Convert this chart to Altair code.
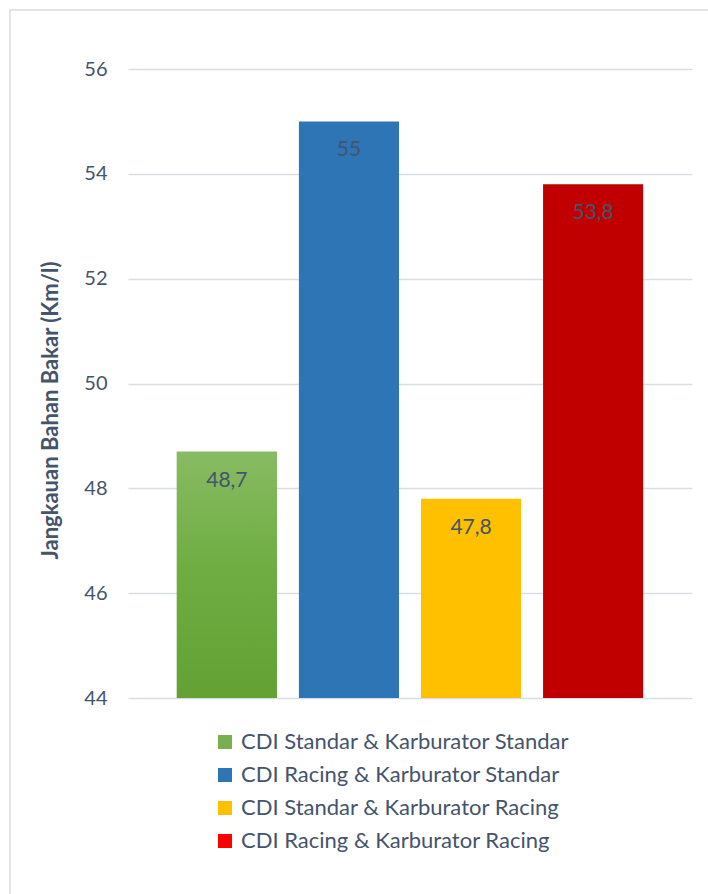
import altair as alt
import pandas as pd

categories = [
    "CDI Standar & Karburator Standar",
    "CDI Racing & Karburator Standar",
    "CDI Standar & Karburator Racing",
    "CDI Racing & Karburator Racing",
]
values = [48.7, 55.0, 47.8, 53.8]
labels = ["48,7", "55", "47,8", "53,8"]
bar_colors = ["#74AD48", "#2E75B6", "#FFC000", "#C00000"]
legend_colors = ["#79B04D", "#2E75B6", "#FFC000", "#FF0000"]
y_ticks = [44, 46, 48, 50, 52, 54, 56]

df = pd.DataFrame({"cat": categories, "val": values, "lab": labels})

FONT = "Lato"
TXT = "#44546A"

x_enc = alt.X(
    "cat:N",
    sort=categories,
    axis=None,
    scale=alt.Scale(paddingInner=0.18, paddingOuter=0.40),
)
y_enc = alt.Y(
    "val:Q",
    scale=alt.Scale(domain=[44, 56], zero=False, nice=False),
    axis=alt.Axis(
        values=y_ticks,
        title="Jangkauan Bahan Bakar (Km/l)",
        titleFont=FONT,
        titleFontSize=22,
        titleFontWeight="bold",
        titleColor=TXT,
        titlePadding=21,
        titleY=341,
        titleAlign="center",
        labelFont=FONT,
        labelFontSize=20,
        labelColor=TXT,
        labelPadding=21,
        ticks=False,
        domain=False,
        grid=True,
        gridColor="#D9DDE5",
        gridWidth=1.3,
    ),
)

bars = alt.Chart(df).mark_bar().encode(
    x=x_enc,
    y=y_enc,
    y2=alt.datum(44),
    color=alt.Color(
        "cat:N",
        sort=categories,
        scale=alt.Scale(domain=categories, range=bar_colors),
        legend=None,
    ),
)

green = (
    alt.Chart(df)
    .transform_filter(alt.datum.cat == categories[0])
    .mark_bar(
        color=alt.Gradient(
            gradient="linear",
            stops=[
                alt.GradientStop(color="#88BB63", offset=0),
                alt.GradientStop(color="#70AE44", offset=0.45),
                alt.GradientStop(color="#62A132", offset=1),
            ],
            x1=0, x2=0, y1=0, y2=1,
        )
    )
    .encode(x=x_enc, y=alt.Y("val:Q"), y2=alt.datum(44))
)

text = alt.Chart(df).mark_text(
    font=FONT, fontSize=21, color=TXT, baseline="middle", dy=29
).encode(x=x_enc, y=alt.Y("val:Q"), text="lab:N")

legend_layer = alt.Chart(df).mark_square(opacity=0, size=0).encode(
    x=x_enc,
    y=alt.Y("val:Q"),
    color=alt.Color(
        "cat:N",
        sort=categories,
        scale=alt.Scale(domain=categories, range=legend_colors),
        legend=alt.Legend(
            title=None,
            orient="none",
            legendX=86,
            legendY=662,
            direction="vertical",
            symbolType="square",
            symbolSize=196,
            symbolOpacity=1,
            symbolStrokeWidth=0,
            labelFont=FONT,
            labelFontSize=22,
            labelColor=TXT,
            labelOffset=5,
            rowPadding=11,
            labelLimit=500,
        ),
    ),
)

frame = alt.Chart(pd.DataFrame({"a": [0]})).mark_rect(
    fill=None, stroke="#D9DEE6", strokeWidth=1.5
).encode(
    x=alt.value(-118), x2=alt.value(800), y=alt.value(-59), y2=alt.value(1000)
)

chart = (
    alt.layer(frame, bars, green, text, legend_layer)
    .resolve_scale(color="independent")
    .properties(
        width=564,
        height=629,
        padding={"left": 128, "top": 69, "right": 16, "bottom": 196},
        autosize=alt.AutoSizeParams(type="none"),
        background="white",
    )
    .configure_view(stroke=None)
)

chart.save("out.html", embed_options={"renderer": "svg", "actions": False})
